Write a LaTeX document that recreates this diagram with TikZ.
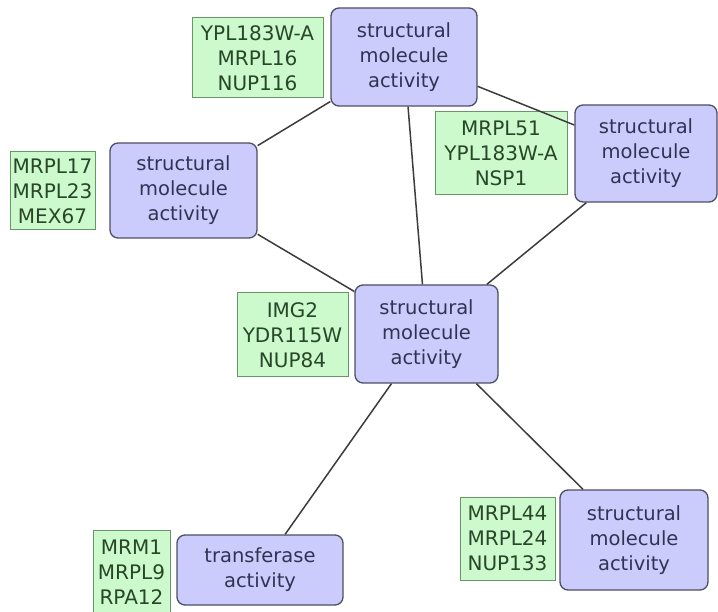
\documentclass[tikz,border=0pt]{standalone}
\usepackage{fontspec}
\setmainfont{DejaVu Sans}
\definecolor{termfill}{RGB}{204,204,252}
\definecolor{termline}{RGB}{78,78,100}
\definecolor{termtext}{RGB}{50,50,85}
\definecolor{genefill}{RGB}{204,250,204}
\definecolor{geneline}{RGB}{105,150,105}
\definecolor{genetext}{RGB}{40,70,40}
\definecolor{edgecol}{RGB}{60,60,60}
\tikzset{
  term/.style={draw=termline, fill=termfill, line width=1.3pt, rounded corners=8pt,
    text=termtext, align=center, inner sep=0pt,
    font=\fontsize{19.5}{25}\selectfont},
  gene/.style={draw=geneline, fill=genefill, line width=1pt,
    text=genetext, align=center, inner sep=0pt,
    font=\fontsize{20}{25}\selectfont},
  link/.style={draw=edgecol, line width=1.5pt}
}
\begin{document}
\begin{tikzpicture}[x=1pt,y=1pt]
\useasboundingbox[fill=white] (0,0) rectangle (718,-612);

% gene lists
\node[gene, minimum width=131, minimum height=80] (g1) at (257.5,-58) {YPL183W-A\\MRPL16\\NUP116};
\node[gene, minimum width=132, minimum height=83] (g2) at (501,-153.5) {MRPL51\\YPL183W-A\\NSP1};
\node[gene, minimum width=85, minimum height=78] (g3) at (52.5,-191) {MRPL17\\MRPL23\\MEX67};
\node[gene, minimum width=111, minimum height=84] (g4) at (292.5,-335) {IMG2\\YDR115W\\NUP84};
\node[gene, minimum width=77, minimum height=84] (g5) at (131.5,-572) {MRM1\\MRPL9\\RPA12};
\node[gene, minimum width=95, minimum height=83] (g6) at (507.5,-538.5) {MRPL44\\MRPL24\\NUP133};

% function terms
\node[term, minimum width=146, minimum height=98] (t1) at (404,-57) {structural\\molecule\\activity};
\node[term, minimum width=142, minimum height=97] (t2) at (646,-153.5) {structural\\molecule\\activity};
\node[term, minimum width=147, minimum height=95] (t3) at (183.5,-190.5) {structural\\molecule\\activity};
\node[term, minimum width=143, minimum height=98] (t4) at (426.5,-334) {structural\\molecule\\activity};
\node[term, minimum width=166, minimum height=70] (t5) at (260,-570) {transferase\\activity};
\node[term, minimum width=148, minimum height=100] (t6) at (634,-540) {structural\\molecule\\activity};

% connections
\draw[link] (t1) -- (t3);
\draw[link] (t1) -- (t2);
\draw[link] (t1) -- (t4);
\draw[link] (t3) -- (t4);
\draw[link] (t2) -- (t4);
\draw[link] (t4) -- (t5);
\draw[link] (t4) -- (t6);
\end{tikzpicture}
\end{document}
